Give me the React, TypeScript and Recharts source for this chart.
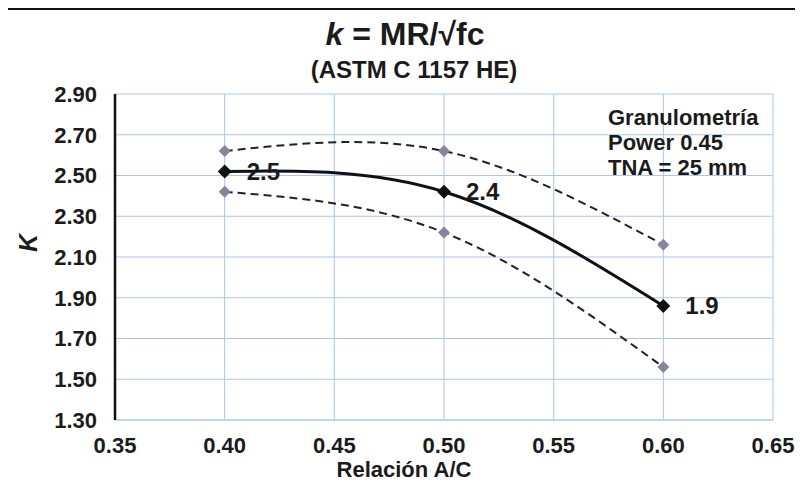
import {
  CartesianGrid,
  LabelList,
  Line,
  LineChart,
  XAxis,
  YAxis,
} from "recharts";

// water/cement ratio and k values
const acRatio = [0.4, 0.5, 0.6];
const kMean = [2.52, 2.42, 1.86];
const kUpper = [2.62, 2.62, 2.16];
const kLower = [2.42, 2.22, 1.56];
const meanLabels = ["2.5", "2.4", "1.9"];

const xTicks = [0.35, 0.4, 0.45, 0.5, 0.55, 0.6, 0.65];
const yTicks = [1.3, 1.5, 1.7, 1.9, 2.1, 2.3, 2.5, 2.7, 2.9];

const noteLines = ["Granulometría", "Power 0.45", "TNA = 25 mm"];

const FONT = "'Liberation Sans', Arial, sans-serif";
const INK = "#1b1b1b";
const GRID_COLOR = "#a9c6ea";
const BAND_MARKER = "#85859f";

const data = acRatio.map((ac, i) => ({
  ac,
  mean: kMean[i],
  upper: kUpper[i],
  lower: kLower[i],
  label: meanLabels[i],
}));

const diamond = (color: string, r: number) => (props: any) => {
  const { cx, cy, index } = props;
  return (
    <path
      key={`d-${color}-${index}`}
      d={`M${cx},${cy - r}L${cx + r},${cy}L${cx},${cy + r}L${cx - r},${cy}Z`}
      fill={color}
    />
  );
};

export default function App() {
  return (
    <div
      style={{
        position: "relative",
        width: 792,
        height: 479,
        marginLeft: -2,
        marginBottom: -10,
        border: "2px solid #111",
        borderBottom: "none",
        boxSizing: "border-box",
        background: "#fff",
        fontFamily: FONT,
      }}
    >
      <div style={{ position: "absolute", left: 0, top: 0 }}>
        <LineChart
          width={788}
          height={477}
          data={data}
          margin={{ top: 84, right: 23, bottom: 0, left: 0 }}
        >
          <CartesianGrid stroke={GRID_COLOR} strokeWidth={1} />
          <XAxis
            type="number"
            dataKey="ac"
            domain={[0.35, 0.65]}
            ticks={xTicks}
            tickFormatter={(v: number) => v.toFixed(2)}
            height={67}
            tickSize={0}
            tickMargin={17}
            axisLine={{ stroke: GRID_COLOR }}
            tick={{ fontSize: 22, fontWeight: "bold", fill: INK, fontFamily: FONT }}
          />
          <YAxis
            type="number"
            domain={[1.3, 2.9]}
            ticks={yTicks}
            tickFormatter={(v: number) => v.toFixed(2)}
            width={107}
            tickSize={0}
            tickMargin={18}
            axisLine={{ stroke: "#111", strokeWidth: 2.5 }}
            tick={{ fontSize: 22, fontWeight: "bold", fill: INK, fontFamily: FONT }}
          />
          <Line
            type="natural"
            dataKey="upper"
            stroke="#222"
            strokeWidth={2}
            strokeDasharray="8 5"
            dot={diamond(BAND_MARKER, 6)}
            activeDot={false}
            isAnimationActive={false}
          />
          <Line
            type="natural"
            dataKey="lower"
            stroke="#222"
            strokeWidth={2}
            strokeDasharray="8 5"
            dot={diamond(BAND_MARKER, 6)}
            activeDot={false}
            isAnimationActive={false}
          />
          <Line
            type="natural"
            dataKey="mean"
            stroke="#111"
            strokeWidth={3}
            dot={diamond("#111", 7)}
            activeDot={false}
            isAnimationActive={false}
          >
            <LabelList
              dataKey="label"
              position="right"
              offset={22}
              style={{ fontSize: 24, fontWeight: "bold", fill: INK, fontFamily: FONT }}
            />
          </Line>
        </LineChart>
      </div>
      <svg
        width={788}
        height={477}
        style={{ position: "absolute", left: 0, top: 0, pointerEvents: "none" }}
      >
        <text
          x={397}
          y={35}
          textAnchor="middle"
          fontSize={32}
          fontWeight="bold"
          fill={INK}
          fontFamily={FONT}
        >
          <tspan fontStyle="italic">k</tspan> = MR/√fc
        </text>
        <text
          x={406}
          y={68}
          textAnchor="middle"
          fontSize={24}
          fontWeight="bold"
          fill={INK}
          fontFamily={FONT}
        >
          (ASTM C 1157 HE)
        </text>
        <text
          x={29}
          y={233}
          transform="rotate(-90 29 233)"
          textAnchor="middle"
          fontSize={25}
          fontWeight="bold"
          fontStyle="italic"
          fill={INK}
          fontFamily={FONT}
        >
          K
        </text>
        <text
          x={396}
          y={467}
          textAnchor="middle"
          fontSize={22}
          fontWeight="bold"
          fill={INK}
          fontFamily={FONT}
        >
          Relación A/C
        </text>
        {noteLines.map((t, i) => (
          <text
            key={t}
            x={600}
            y={115 + i * 25}
            fontSize={22}
            fontWeight="bold"
            fill={INK}
            fontFamily={FONT}
          >
            {t}
          </text>
        ))}
      </svg>
    </div>
  );
}
